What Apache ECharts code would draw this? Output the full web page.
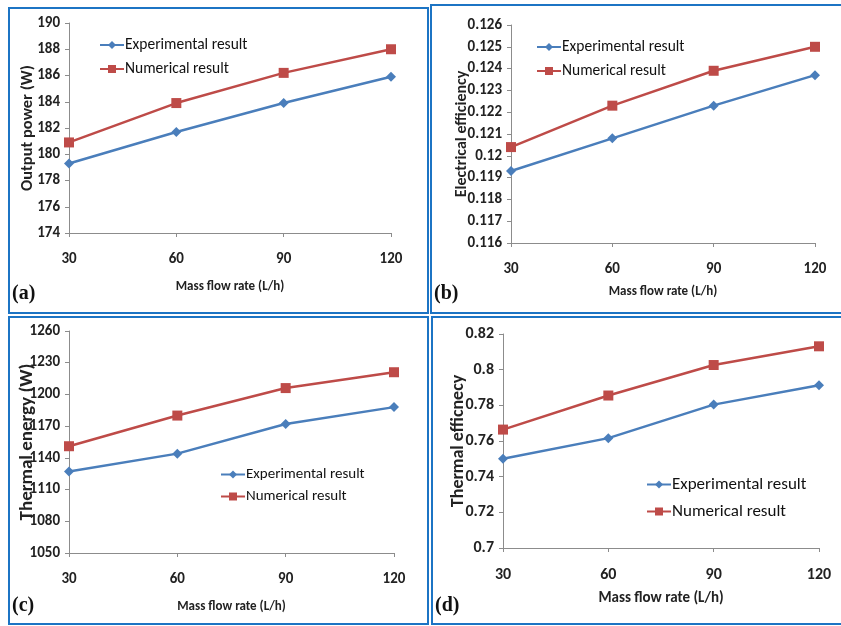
<!DOCTYPE html>
<html>
<head>
<meta charset="utf-8">
<script src="https://cdn.jsdelivr.net/npm/echarts@6/dist/echarts.min.js"></script>
<style>
  html, body { margin: 0; padding: 0; background: #fff; }
  #chart { width: 841px; height: 626px; }
</style>
</head>
<body>
<div id="chart"></div>
<script>
// Mass flow rate categories shared by all four panels
const flowRates = ['30', '60', '90', '120'];

// (a) Output power (W)
const powerExp = [179.3, 181.7, 183.9, 185.9];
const powerNum = [180.9, 183.9, 186.2, 188.0];

// (b) Electrical efficiency
const elecExp = [0.1193, 0.1208, 0.1223, 0.1237];
const elecNum = [0.1204, 0.1223, 0.1239, 0.1250];

// (c) Thermal energy (W)
const thermExp = [1127, 1144, 1172, 1188];
const thermNum = [1151, 1180, 1206, 1221];

// (d) Thermal efficiency
const theffExp = [0.750, 0.7616, 0.7804, 0.7913];
const theffNum = [0.7664, 0.7855, 0.8026, 0.8131];

const seriesNames = ['Experimental result', 'Numerical result'];
const blue = '#4A7EBB';
const red = '#BE4B48';
const axisGray = '#8C8C8C';
const frameBlue = '#1C74C4';
const font = 'Carlito, "Liberation Sans Narrow", "DejaVu Sans Condensed", "Open Sans", sans-serif';

const panels = [
  { grid: { left: 69, top: 23, width: 322, height: 210 }, exp: powerExp, num: powerNum,
    min: 174, max: 190, interval: 2, yName: 'Output power (W)', yGap: 33, yTitle: 16.5, xGap: 47, tick: 15, xTitle: 13,
    legend: { left: 94, top: 32 }, legendFont: 15.5, legendGap: 8 },
  { grid: { left: 511, top: 25, width: 304, height: 218 }, exp: elecExp, num: elecNum,
    min: 0.116, max: 0.126, interval: 0.001, yName: 'Electrical efficiency', yGap: 41, yTitle: 16, xGap: 42, tick: 15, xTitle: 13,
    legend: { left: 531, top: 34 }, legendFont: 15.5, legendGap: 8 },
  { grid: { left: 69, top: 331, width: 325, height: 222 }, exp: thermExp, num: thermNum,
    min: 1050, max: 1260, interval: 30, yName: 'Thermal energy (W)', yGap: 32, yTitle: 19, xGap: 47, tick: 15, xTitle: 13,
    legend: { left: 215, top: 462 }, legendFont: 15, legendGap: 7 },
  { grid: { left: 503, top: 334, width: 316, height: 214 }, exp: theffExp, num: theffNum,
    min: 0.70, max: 0.82, interval: 0.02, yName: 'Thermal efficnecy', yGap: 36, yTitle: 18, xGap: 43, tick: 16, xTitle: 15,
    legend: { left: 641, top: 471 }, legendFont: 17, legendGap: 10 }
];

const option = {
  animation: false,
  backgroundColor: '#fff',
  grid: panels.map(p => Object.assign({ containLabel: false }, p.grid)),
  legend: panels.map(p => ({
    orient: 'vertical',
    left: p.legend.left,
    top: p.legend.top,
    itemWidth: 24,
    itemHeight: 10,
    itemGap: p.legendGap,
    data: seriesNames,
    selectedMode: false,
    textStyle: { fontFamily: font, fontSize: p.legendFont, color: '#111', padding: [0, 0, 0, -4] }
  })),
  xAxis: panels.map((p, i) => ({
    type: 'category',
    gridIndex: i,
    data: flowRates,
    boundaryGap: false,
    name: 'Mass flow rate (L/h)',
    nameLocation: 'middle',
    nameGap: p.xGap,
    nameMoveOverlap: false,
    nameTextStyle: { fontFamily: font, fontSize: p.xTitle, fontWeight: 'bold', color: '#222' },
    axisLine: { lineStyle: { color: axisGray, width: 1 } },
    axisTick: { show: true, length: 4, lineStyle: { color: axisGray } },
    axisLabel: { margin: 19, fontFamily: font, fontSize: p.tick, fontWeight: 'bold', color: '#222' },
    splitLine: { show: false }
  })),
  yAxis: panels.map((p, i) => ({
    type: 'value',
    gridIndex: i,
    min: p.min,
    max: p.max,
    interval: p.interval,
    name: p.yName,
    nameLocation: 'middle',
    nameGap: p.yGap,
    nameMoveOverlap: false,
    nameTextStyle: { fontFamily: font, fontSize: p.yTitle, fontWeight: 'bold', color: '#222' },
    axisLine: { show: true, lineStyle: { color: axisGray, width: 1 } },
    axisTick: { show: true, length: 4, lineStyle: { color: axisGray } },
    axisLabel: {
      margin: 9, fontFamily: font, fontSize: p.tick, fontWeight: 'bold', color: '#222',
      formatter: v => String(parseFloat(v.toPrecision(6)))
    },
    splitLine: { show: false }
  })),
  series: panels.flatMap((p, i) => [
    {
      name: seriesNames[0], type: 'line', xAxisIndex: i, yAxisIndex: i, data: p.exp,
      symbol: 'diamond', symbolSize: 10, color: blue,
      lineStyle: { width: 2.5, color: blue }, itemStyle: { color: blue }
    },
    {
      name: seriesNames[1], type: 'line', xAxisIndex: i, yAxisIndex: i, data: p.num,
      symbol: 'rect', symbolSize: 10, color: red,
      lineStyle: { width: 2.5, color: red }, itemStyle: { color: red }
    }
  ]),
  graphic: [
    // panel frames
    { type: 'rect', shape: { x: 9, y: 8, width: 419, height: 305 }, style: { fill: 'none', stroke: frameBlue, lineWidth: 2 } },
    { type: 'rect', shape: { x: 431, y: 5, width: 420, height: 308 }, style: { fill: 'none', stroke: frameBlue, lineWidth: 2 } },
    { type: 'rect', shape: { x: 9, y: 317, width: 419, height: 307 }, style: { fill: 'none', stroke: frameBlue, lineWidth: 2 } },
    { type: 'rect', shape: { x: 432, y: 317, width: 420, height: 307 }, style: { fill: 'none', stroke: frameBlue, lineWidth: 2 } },
    // panel tags
    { type: 'text', left: 12, top: 284, style: { text: '(a)', font: 'bold 20px "Liberation Serif", "DejaVu Serif", serif', fill: '#111' } },
    { type: 'text', left: 434, top: 284, style: { text: '(b)', font: 'bold 20px "Liberation Serif", "DejaVu Serif", serif', fill: '#111' } },
    { type: 'text', left: 12, top: 596, style: { text: '(c)', font: 'bold 20px "Liberation Serif", "DejaVu Serif", serif', fill: '#111' } },
    { type: 'text', left: 435, top: 596, style: { text: '(d)', font: 'bold 20px "Liberation Serif", "DejaVu Serif", serif', fill: '#111' } }
  ]
};

const chart = echarts.init(document.getElementById('chart'), null, { renderer: 'canvas' });
chart.setOption(option);
</script>
</body>
</html>
